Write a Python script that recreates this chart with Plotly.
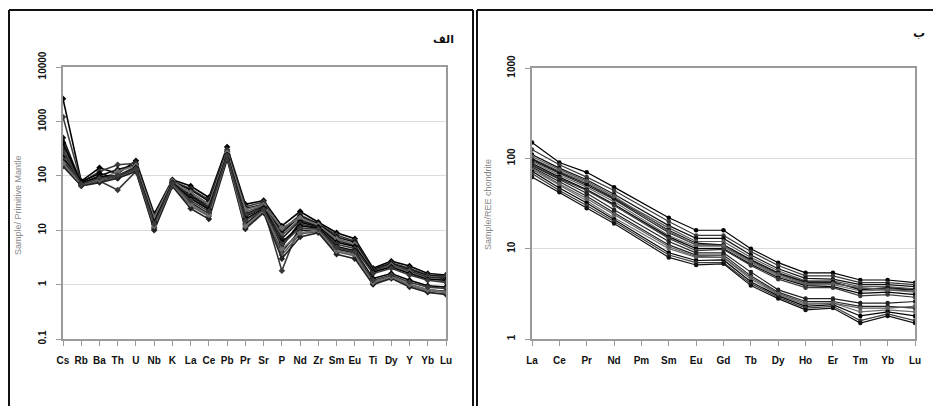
import plotly.graph_objects as go

W, H = 933, 406

# ---- spider diagram (primitive-mantle normalised) ----
spider_elements = ["Cs", "Rb", "Ba", "Th", "U", "Nb", "K", "La", "Ce", "Pb", "Pr",
                   "Sr", "P", "Nd", "Zr", "Sm", "Eu", "Ti", "Dy", "Y", "Yb", "Lu"]

pm_s1 = [2600, 80, 140, 110, 190, 20, 85, 65, 40, 340, 30, 35, 12, 22, 14, 9.0, 7.0, 2.0, 2.7, 2.2, 1.6, 1.5]
pm_s2 = [1200, 75, 120, 160, 170, 18, 80, 58, 36, 300, 27, 33, 10, 19, 13, 8.2, 6.3, 1.9, 2.5, 2.0, 1.5, 1.45]
pm_s3 = [500, 72, 100, 130, 160, 17, 78, 55, 34, 280, 25, 30, 9, 18, 13, 7.5, 6.0, 1.9, 2.4, 1.9, 1.45, 1.4]
pm_s4 = [350, 70, 95, 100, 150, 16, 75, 50, 30, 260, 22, 28, 8, 16, 12, 7.0, 5.5, 1.8, 2.3, 1.8, 1.4, 1.35]
pm_s5 = [300, 68, 90, 95, 140, 15, 72, 45, 28, 250, 20, 27, 7, 15, 12, 6.5, 5.2, 1.8, 2.2, 1.75, 1.35, 1.3]
pm_s6 = [250, 75, 85, 120, 155, 17, 80, 48, 30, 270, 24, 29, 11, 17, 12.5, 6.8, 5.5, 1.7, 2.2, 1.7, 1.3, 1.2]
pm_s7 = [220, 78, 110, 90, 130, 14, 70, 42, 26, 240, 18, 26, 5, 14, 11.5, 6.0, 5.0, 1.7, 2.1, 1.6, 1.25, 1.2]
pm_s8 = [200, 72, 80, 55, 120, 13, 76, 40, 25, 230, 19, 25, 1.8, 13, 11, 5.5, 4.6, 1.6, 2.0, 1.5, 1.2, 1.1]
pm_s9 = [180, 68, 80, 100, 130, 11, 68, 32, 20, 220, 13, 24, 4, 10, 10, 4.5, 3.8, 1.1, 1.4, 1.0, 0.8, 0.75]
pm_s10 = [160, 66, 78, 95, 125, 10.5, 66, 28, 18, 210, 11, 22, 3.5, 8.5, 9.5, 4.0, 3.4, 1.05, 1.35, 0.95, 0.78, 0.72]
pm_s11 = [150, 65, 75, 90, 120, 10, 64, 25, 16, 200, 10.5, 21, 3, 7.5, 9, 3.6, 3.0, 1.0, 1.3, 0.9, 0.72, 0.66]
pm_s12 = [170, 70, 85, 105, 135, 12, 70, 30, 19, 230, 12, 23, 4.5, 9, 10, 4.2, 3.6, 1.1, 1.4, 1.0, 0.8, 0.74]
pm_s13 = [400, 74, 95, 100, 140, 14, 74, 38, 24, 240, 16, 25, 6, 12, 11, 5.0, 4.2, 1.3, 1.6, 1.2, 0.95, 0.9]
pm_s14 = [280, 70, 90, 100, 135, 13, 72, 35, 22, 235, 15, 24, 5.5, 11, 10.5, 4.8, 4.0, 1.2, 1.5, 1.1, 0.9, 0.85]

spider_samples = [pm_s1, pm_s2, pm_s3, pm_s4, pm_s5, pm_s6, pm_s7,
                  pm_s8, pm_s9, pm_s10, pm_s11, pm_s12, pm_s13, pm_s14]

# ---- REE diagram (chondrite normalised); Pm not analysed ----
ree_elements = ["La", "Ce", "Pr", "Nd", "Pm", "Sm", "Eu", "Gd", "Tb", "Dy",
                "Ho", "Er", "Tm", "Yb", "Lu"]

ch_r1 = [150, 90, 70, 48, None, 22, 16, 16, 10, 7.0, 5.4, 5.4, 4.5, 4.5, 4.2]
ch_r2 = [125, 85, 62, 44, None, 20, 14, 14, 9.3, 6.5, 5.0, 5.0, 4.2, 4.2, 4.0]
ch_r3 = [110, 78, 58, 40, None, 18, 13, 13, 8.5, 6.0, 4.7, 4.6, 4.0, 4.0, 3.8]
ch_r4 = [100, 72, 54, 37, None, 17, 12, 12, 8.0, 5.7, 4.4, 4.4, 3.8, 3.8, 3.6]
ch_r5 = [95, 68, 50, 35, None, 15, 11, 11, 7.4, 5.3, 4.2, 4.2, 3.6, 3.6, 3.5]
ch_r6 = [92, 65, 48, 33, None, 14, 10.5, 10.5, 7.0, 5.0, 4.0, 4.0, 3.4, 3.5, 3.3]
ch_r7 = [88, 62, 45, 31, None, 13.5, 10, 10, 6.7, 4.8, 3.9, 3.8, 3.2, 3.3, 3.1]
ch_r8 = [85, 60, 44, 30, None, 13, 9.5, 9.8, 6.5, 4.6, 3.7, 3.7, 3.0, 3.1, 2.9]
ch_r9 = [98, 70, 52, 36, None, 16, 11.5, 11, 7.6, 5.4, 4.3, 4.3, 3.5, 3.7, 3.5]
ch_r10 = [105, 75, 56, 38, None, 15.5, 11, 10.8, 7.2, 5.2, 4.1, 4.1, 3.7, 3.5, 3.4]
ch_r11 = [80, 55, 38, 25, None, 11, 8.5, 8.5, 5.0, 3.3, 2.6, 2.6, 2.3, 2.3, 2.2]
ch_r12 = [75, 50, 34, 22, None, 10, 8.0, 8.0, 4.6, 3.1, 2.4, 2.5, 2.0, 2.1, 2.0]
ch_r13 = [72, 47, 32, 21, None, 9.0, 7.4, 7.5, 4.3, 3.0, 2.3, 2.4, 1.8, 2.0, 1.8]
ch_r14 = [68, 44, 30, 20, None, 8.5, 7.0, 7.0, 4.1, 2.9, 2.2, 2.3, 1.6, 1.9, 1.6]
ch_r15 = [62, 42, 28, 19, None, 8.0, 6.6, 6.8, 3.9, 2.8, 2.1, 2.2, 1.5, 1.8, 1.5]
ch_r16 = [78, 52, 36, 24, None, 10.5, 8.2, 8.0, 4.8, 3.2, 2.5, 2.5, 2.2, 2.2, 2.3]
ch_r17 = [83, 58, 41, 27, None, 12, 9, 9, 5.5, 3.5, 2.8, 2.8, 2.5, 2.5, 2.6]

ree_samples = [ch_r1, ch_r2, ch_r3, ch_r4, ch_r5, ch_r6, ch_r7, ch_r8, ch_r9,
               ch_r10, ch_r11, ch_r12, ch_r13, ch_r14, ch_r15, ch_r16, ch_r17]

spider_ticks = [0.1, 1, 10, 100, 1000, 10000]
ree_ticks = [1, 10, 100, 1000]

line_shades = ["#000000", "#3a3a3a", "#111111", "#5a5a5a", "#222222", "#6e6e6e"]


def px_x(p):
    return p / W


def px_y(p):
    return 1 - p / H


fig = go.Figure()

for i, s in enumerate(spider_samples):
    c = line_shades[i % len(line_shades)]
    fig.add_trace(go.Scatter(
        x=list(range(len(spider_elements))), y=s, mode="lines+markers",
        line=dict(color=c, width=1.6), marker=dict(symbol="diamond", size=5, color=c),
        xaxis="x", yaxis="y", showlegend=False))

for i, s in enumerate(ree_samples):
    c = line_shades[i % len(line_shades)]
    fig.add_trace(go.Scatter(
        x=list(range(len(ree_elements))), y=s, mode="lines+markers", connectgaps=True,
        line=dict(color=c, width=1.2), marker=dict(symbol="circle", size=4.5, color=c),
        xaxis="x2", yaxis="y2", showlegend=False))

tick_font = dict(family="Liberation Sans, Arial, sans-serif", size=10, color="#111111")
axis_common = dict(showline=True, mirror=True, linecolor="#9a9a9a", linewidth=1.5,
                   ticks="outside", ticklen=5, tickcolor="#9a9a9a", tickwidth=1,
                   zeroline=False, automargin=False)

fig.update_layout(
    width=W, height=H, margin=dict(l=0, r=0, t=0, b=0, pad=0, autoexpand=False),
    paper_bgcolor="white", plot_bgcolor="white",
    font=tick_font, showlegend=False,
    xaxis=dict(domain=[px_x(63), px_x(446)], range=[0, len(spider_elements) - 1],
               tickvals=list(range(len(spider_elements))),
               ticktext=["<b>%s</b>" % e for e in spider_elements],
               tickangle=0, showgrid=False, ticklabelstandoff=6, anchor="y",
               **axis_common),
    yaxis=dict(domain=[px_y(339), px_y(67)], type="log", range=[-1, 4],
               tickvals=spider_ticks,
               ticktext=["<b>%g</b>" % t for t in spider_ticks],
               tickangle=-90, showgrid=True, gridcolor="#dcdcdc", gridwidth=1,
               ticklabelstandoff=6, anchor="x", **axis_common),
    xaxis2=dict(domain=[px_x(532), px_x(915)], range=[0, len(ree_elements) - 1],
                tickvals=list(range(len(ree_elements))),
                ticktext=["<b>%s</b>" % e for e in ree_elements],
                tickangle=0, showgrid=False, ticklabelstandoff=6, anchor="y2",
                **axis_common),
    yaxis2=dict(domain=[px_y(339), px_y(68)], type="log", range=[0, 3],
                tickvals=ree_ticks,
                ticktext=["<b>%g</b>" % t for t in ree_ticks],
                tickangle=-90, showgrid=True, gridcolor="#dcdcdc", gridwidth=1,
                ticklabelstandoff=6, anchor="x2", **axis_common),
)

# axis titles and panel letters
note_font = dict(family="Liberation Sans, Arial, sans-serif", size=9, color="#8a8a8a")
fig.add_annotation(x=px_x(18), y=px_y(205), xref="paper", yref="paper",
                   xanchor="center", yanchor="middle",
                   text="Sample/ Primitive Mantle", textangle=-90, showarrow=False,
                   font=note_font)
fig.add_annotation(x=px_x(488), y=px_y(205), xref="paper", yref="paper",
                   xanchor="center", yanchor="middle",
                   text="Sample/REE chondrite", textangle=-90, showarrow=False,
                   font=note_font)
fig.add_annotation(x=px_x(443), y=px_y(39), xref="paper", yref="paper",
                   xanchor="center", yanchor="middle",
                   text="<b>الف</b>", showarrow=False,
                   font=dict(family="DejaVu Sans, sans-serif", size=11, color="#111111"))
fig.add_annotation(x=px_x(919), y=px_y(33), xref="paper", yref="paper",
                   xanchor="center", yanchor="middle",
                   text="<b>ب</b>", showarrow=False,
                   font=dict(family="DejaVu Sans, sans-serif", size=12, color="#111111"))

# black frames around the two panels
frame = dict(color="#111111", width=2)
for x0, y0, x1, y1 in [(9, 10, 9, H), (9, 10, 473, 10), (473, 10, 473, H),
                       (477, 10, 477, H), (477, 10, W, 10)]:
    fig.add_shape(type="line", xref="paper", yref="paper",
                  x0=px_x(x0), y0=px_y(y0), x1=px_x(x1), y1=px_y(y1), line=frame)

fig.write_html("out.html")
